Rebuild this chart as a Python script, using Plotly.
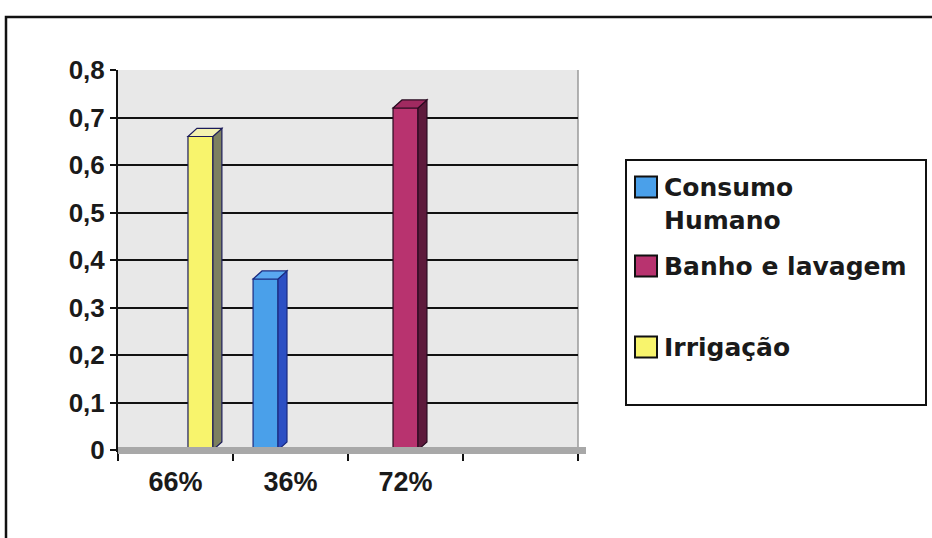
import plotly.graph_objects as go

# ---- data ----
categories = ["66%", "36%", "72%", ""]
series_names = ["Consumo<br>Humano", "Banho e lavagem", "Irrigação"]
consumo_humano = [None, 0.36, None, None]
banho_lavagem = [None, None, 0.72, None]
irrigacao = [0.66, None, None, None]
y_ticks = [0, 0.1, 0.2, 0.3, 0.4, 0.5, 0.6, 0.7, 0.8]
y_tick_labels = ["0", "0,1", "0,2", "0,3", "0,4", "0,5", "0,6", "0,7", "0,8"]

series_values = [consumo_humano, banho_lavagem, irrigacao]
front_colors = ["#4aa0ea", "#b8336f", "#f8f46c"]
side_colors = ["#2c4fc4", "#5e1a3c", "#7c8060"]
top_colors = ["#5aa8f0", "#a02a60", "#f4f2b0"]
edge_colors = ["#1a2a80", "#2a0a20", "#1c1c5a"]

# plot-area geometry (pixels)
W, H = 932, 538
L, R, T, B = 118, 578, 70, 450


def px(x):
    return (x - L) / (R - L)


def py(y):
    return (B - y) / (B - T)


bar_w = 0.217
depth_x = 0.078   # 3-D depth in category units
depth_y = 0.017   # 3-D depth in value units

fig = go.Figure()
shapes = []
for j, (vals, name) in enumerate(zip(series_values, series_names)):
    xs = list(range(len(categories)))
    offset = (j - 1) * bar_w - bar_w / 2
    fig.add_trace(go.Bar(
        x=xs, y=vals, name=name, width=bar_w, offset=offset,
        marker=dict(color=front_colors[j], line=dict(color=edge_colors[j], width=1.2)),
        showlegend=False,
    ))
    for i, v in enumerate(vals):
        if v is None:
            continue
        xl = i + offset
        xr = xl + bar_w
        # side face
        shapes.append(dict(
            type="path", xref="x", yref="y",
            path=f"M {xr},0 L {xr + depth_x},{depth_y} L {xr + depth_x},{v + depth_y} L {xr},{v} Z",
            fillcolor=side_colors[j], line=dict(color=edge_colors[j], width=1.2), layer="above"))
        # top face
        shapes.append(dict(
            type="path", xref="x", yref="y",
            path=f"M {xl},{v} L {xl + depth_x},{v + depth_y} L {xr + depth_x},{v + depth_y} L {xr},{v} Z",
            fillcolor=top_colors[j], line=dict(color=edge_colors[j], width=1.2), layer="above"))

# floor strip
shapes.append(dict(type="rect", xref="paper", yref="paper",
                   x0=px(L), x1=px(R + 8), y0=py(454), y1=py(447),
                   fillcolor="#a8a8a8", line=dict(width=0), layer="above"))
# back wall right edge
shapes.append(dict(type="line", xref="paper", yref="paper",
                   x0=1, x1=1, y0=0, y1=1, line=dict(color="#9a9a9a", width=1.5), layer="below"))
# outer chart border
shapes.append(dict(type="rect", xref="paper", yref="paper",
                   x0=px(6), x1=px(945), y0=py(17), y1=py(560),
                   line=dict(color="#111111", width=2.5), fillcolor="rgba(0,0,0,0)", layer="below"))

# legend box
leg_x0, leg_x1, leg_y0, leg_y1 = 626, 926, 160, 405
shapes.append(dict(type="rect", xref="paper", yref="paper",
                   x0=px(leg_x0), x1=px(leg_x1), y0=py(leg_y0), y1=py(leg_y1),
                   line=dict(color="#111111", width=2), fillcolor="white"))

marker_centers = [187, 266, 347]
annotations = []
for j, yc in enumerate(marker_centers):
    shapes.append(dict(type="rect", xref="paper", yref="paper",
                       x0=px(635), x1=px(657), y0=py(yc - 10.5), y1=py(yc + 10.5),
                       fillcolor=front_colors[j], line=dict(color="#111111", width=2)))
    annotations.append(dict(
        xref="paper", yref="paper", x=px(662), y=py(yc - 16) if j == 0 else py(yc),
        xanchor="left", yanchor="top" if j == 0 else "middle",
        text=series_names[j], showarrow=False, align="left",
        font=dict(family="DejaVu Sans", size=25, color="#1a1a1a", weight="bold")))

fig.update_layout(
    width=W, height=H,
    margin=dict(l=L, r=W - R, t=T, b=H - B, pad=0),
    paper_bgcolor="white",
    plot_bgcolor="#e8e8e8",
    barmode="overlay",
    shapes=shapes,
    annotations=annotations,
    xaxis=dict(
        range=[-0.5, len(categories) - 0.5],
        tickvals=list(range(len(categories))),
        ticktext=categories,
        ticks="", showgrid=False, zeroline=False,
        showline=True, linecolor="#111111", linewidth=2,
        ticklabelstandoff=7,
        tickfont=dict(family="Liberation Sans", size=27, color="#1a1a1a", weight="bold"),
        minor=dict(tickvals=[i - 0.5 for i in range(len(categories) + 1)],
                   ticks="outside", ticklen=9, tickwidth=2, tickcolor="#111111", showgrid=False),
    ),
    yaxis=dict(
        range=[0, 0.8],
        tickvals=y_ticks, ticktext=y_tick_labels,
        ticks="outside", ticklen=6, tickwidth=2, tickcolor="#111111",
        showgrid=True, gridcolor="#111111", gridwidth=2.2,
        zeroline=False,
        showline=True, linecolor="#111111", linewidth=2,
        ticklabelstandoff=0,
        tickfont=dict(family="Liberation Sans", size=26, color="#1a1a1a", weight="bold"),
    ),
)

fig.write_html("out.html")
